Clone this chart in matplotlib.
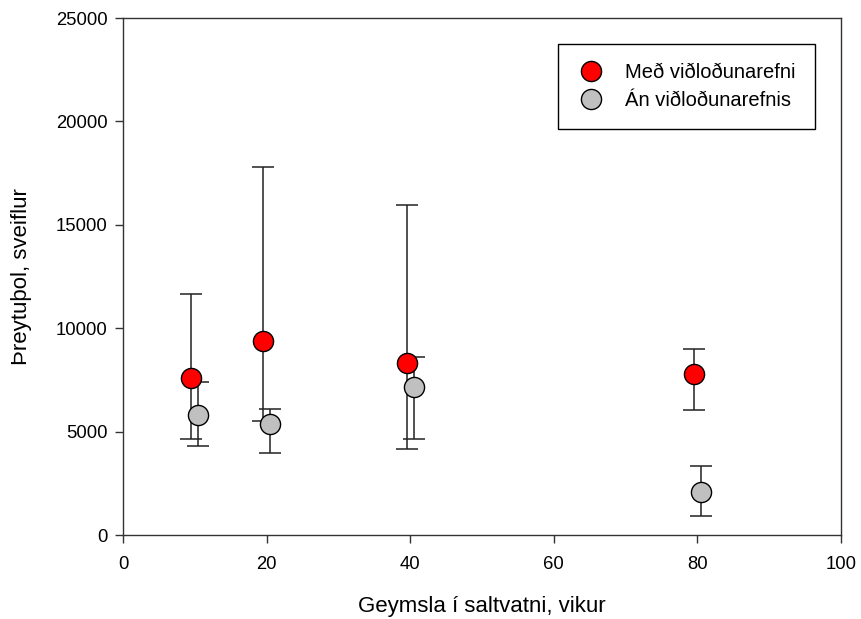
import matplotlib.pyplot as plt
import numpy as np

plt.rcParams['font.family'] = ['Liberation Sans', 'DejaVu Sans']

# Með viðloðunarefni (red)
x_med = [9.5, 19.5, 39.5, 79.5]
y_med = [7600, 9380, 8300, 7800]
top_med = [11650, 17800, 15960, 9000]
bot_med = [4650, 5500, 4150, 6040]

# Án viðloðunarefnis (grey)
x_an = [10.5, 20.5, 40.5, 80.5]
y_an = [5800, 5370, 7150, 2080]
top_an = [7400, 6100, 8600, 3340]
bot_an = [4300, 3970, 4640, 920]


def draw():
    fig = plt.figure(figsize=(8.61, 6.19), dpi=100)
    ax = fig.add_axes([0.1429, 0.1357, 0.8339, 0.8352])

    for xs, ys, tops, bots, col, lab in [
        (x_med, y_med, top_med, bot_med, '#FF0000', 'Með viðloðunarefni'),
        (x_an, y_an, top_an, bot_an, '#C0C0C0', 'Án viðloðunarefnis'),
    ]:
        ys = np.array(ys)
        err = [ys - np.array(bots), np.array(tops) - ys]
        ax.errorbar(xs, ys, yerr=err, fmt='none', ecolor='#222222',
                    elinewidth=1.1, capsize=8, capthick=1.1, zorder=2)
        ax.plot(xs, ys, 'o', ms=14.5, mfc=col, mec='black', mew=1.0,
                linestyle='none', label=lab, zorder=3)

    ax.set_xlim(0, 100)
    ax.set_ylim(0, 25000)
    ax.set_xticks([0, 20, 40, 60, 80, 100])
    ax.set_yticks([0, 5000, 10000, 15000, 20000, 25000])
    ax.tick_params(direction='out', length=6, width=1, labelsize=13.3,
                   colors='#333333', labelcolor='black', pad=5)
    ax.tick_params(axis='x', pad=9)
    for s in ax.spines.values():
        s.set_linewidth(1.0)
        s.set_color('#333333')

    ax.set_xlabel('Geymsla í saltvatni, vikur', fontsize=16, labelpad=17)
    ax.set_ylabel('Þreytuþol, sveiflur', fontsize=16, labelpad=17)

    leg = ax.legend(loc='upper right', bbox_to_anchor=(0.9638, 0.9497),
                    fontsize=14.5, fancybox=False, framealpha=1,
                    edgecolor='black', borderpad=0.95, handlelength=1.4,
                    handletextpad=1.0, labelspacing=0.45, borderaxespad=0)
    leg.get_frame().set_linewidth(1.0)

    fig.savefig('out.png', dpi=100)


if __name__ == "__main__":
    draw()
